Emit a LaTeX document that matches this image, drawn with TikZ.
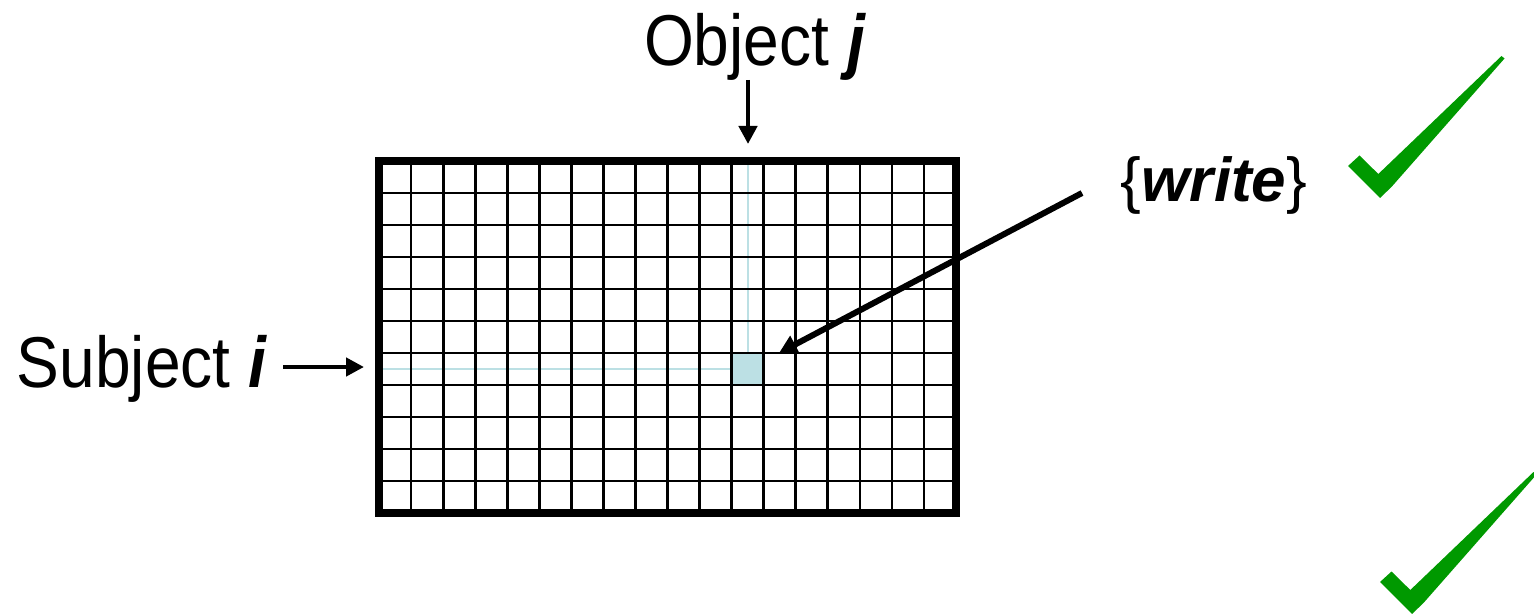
\documentclass[tikz,border=0pt]{standalone}
\usepackage{fontspec}
\setmainfont{Liberation Sans}
\usetikzlibrary{arrows.meta}
\definecolor{chkgreen}{RGB}{0,153,0}
\definecolor{hlblue}{RGB}{188,224,228}
\begin{document}
\begin{tikzpicture}[x=0.5pt,y=-0.5pt,
  lbl/.style={inner sep=0pt, anchor=base, font=\fontsize{36pt}{40pt}\selectfont},
  arr/.style={line width=2.2pt, -{Triangle[length=9pt,width=9pt]}},
  warr/.style={line width=3pt, -{Triangle[length=9pt,width=9.5pt]}},
  gridline/.style={line width=1.4pt},
  border/.style={line width=3.6pt},
  guide/.style={hlblue, line width=1pt},
  check/.style={fill=chkgreen}]
\useasboundingbox (0,0) rectangle (1534,614);
\clip (0,0) rectangle (1534,614);
% highlighted cell and guide lines
\fill[hlblue] (731.7,353) rectangle (763.8,385);
\coordinate (vtop) at (747.7,161);
\coordinate (vbot) at (747.7,353);
\coordinate (hleft) at (379,369);
\coordinate (hright) at (731.7,369);
\draw[guide] (vtop) -- (vbot);
\draw[guide] (hleft) -- (hright);
% grid
\foreach \k in {1,...,17} {
  \draw[gridline] ({379+\k*32.06},161) -- ({379+\k*32.06},513);
}
\foreach \k in {1,...,10} {
  \draw[gridline] (379,{161+\k*32}) -- (956,{161+\k*32});
}
\draw[border] (379,161) rectangle (956,513);
% labels
\node[lbl] (obj) at (755,66) {\scalebox{0.89}[1]{Object \textbf{\textit{j}}}};
\node[lbl] (subj) at (142,387) {\scalebox{0.89}[1]{Subject \textbf{\textit{i}}}};
\node[lbl, font=\fontsize{31pt}{34pt}\selectfont] (wr) at (1214,202) {\{\textbf{\textit{write}}\}};
% arrows
\coordinate (objtail) at (748,80);
\coordinate (objtip) at (748,144);
\coordinate (subtail) at (283,367);
\coordinate (subtip) at (364,367);
\coordinate (wtail) at (1082,193);
\coordinate (wtip) at (779,353);
\draw[arr] (objtail) -- (objtip);
\draw[arr] (subtail) -- (subtip);
\draw[warr] (wtail) -- (wtip);
% check marks
\path[check] (1348,166) -- (1359.5,155.5) -- (1378.3,174) -- (1501.5,56) -- (1504.5,58.5) -- (1391.7,186.7) -- (1380,198) -- cycle;
\begin{scope}[shift={(32,416)}]
\path[check] (1348,166) -- (1359.5,155.5) -- (1378.3,174) -- (1501.5,56) -- (1504.5,58.5) -- (1391.7,186.7) -- (1380,198) -- cycle;
\end{scope}
\end{tikzpicture}
\end{document}
